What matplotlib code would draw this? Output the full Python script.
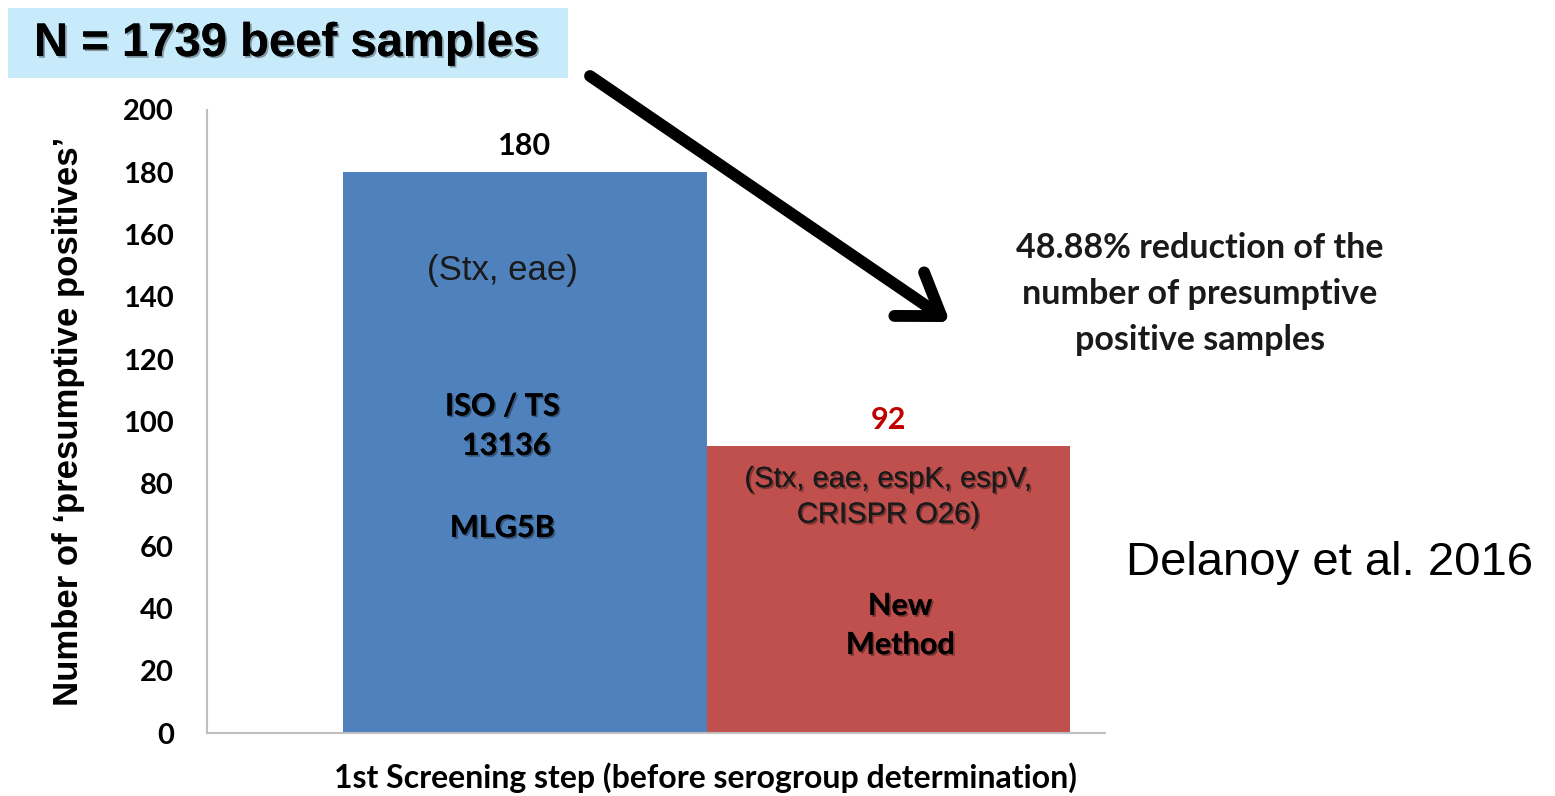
import matplotlib
matplotlib.use("Agg")
import matplotlib.pyplot as plt
import matplotlib.patheffects as pe
from matplotlib.patches import FancyArrowPatch, Rectangle

categories = ["ISO / TS 13136 / MLG5B", "New Method"]
values = [180, 92]
bar_colors = ["#4f81bd", "#c0504d"]
value_label_colors = ["#000000", "#c00000"]
yticks = [0, 20, 40, 60, 80, 100, 120, 140, 160, 180, 200]

W, H = 1555, 796
fig = plt.figure(figsize=(W / 100, H / 100), dpi=100)
ax = fig.add_axes([207 / W, 1 - 733 / H, (1105 - 207) / W, (733 - 110) / H])

x = list(range(len(values)))
bars = ax.bar(x, values, width=1.0, color=bar_colors, edgecolor="none")
ax.set_xlim(-0.8747, 1.5964)
ax.set_ylim(0, 200)
ax.set_yticks(yticks)
ax.set_yticklabels([str(t) for t in yticks], fontfamily="Lato", fontweight="bold", fontsize=21)
ax.set_xticks([])
ax.tick_params(axis="y", length=0, pad=24)
for s in ["top", "right"]:
    ax.spines[s].set_visible(False)
for s in ["left", "bottom"]:
    ax.spines[s].set_color("#bfbfbf")
    ax.spines[s].set_linewidth(1.5)

ax.set_ylabel("Number of \u2018presumptive positives\u2019", fontfamily="Liberation Sans",
              fontweight="bold", fontsize=25, labelpad=27)
ax.set_xlabel("1st Screening step (before serogroup determination)", fontfamily="Lato",
              fontweight="bold", fontsize=23, labelpad=22)
ax.xaxis.set_label_coords((705 - 207) / 898, -(778 - 733) / 623, transform=ax.transAxes)
ax.xaxis.label.set_va("center")

shadow = [pe.withSimplePatchShadow(offset=(1.3, -1.3), shadow_rgbFace="black", alpha=0.35), pe.Normal()]

# value labels
for xi, v, c in zip(x, values, value_label_colors):
    ax.text(xi, v + 8.5, str(v), ha="center", va="center", fontfamily="Lato",
            fontweight="bold", fontsize=22, color=c)

# blue bar inner text
ax.text(-0.062, 148.6, "(Stx, eae)", ha="center", va="center", fontfamily="Liberation Sans",
        fontsize=25, color="#1a1a1a")
ax.text(-0.062, 98.5, "ISO / TS\n 13136", ha="center", va="center", fontfamily="Lato",
        fontweight="bold", fontsize=22, color="black", linespacing=1.5, path_effects=shadow)
ax.text(-0.062, 65.8, "MLG5B", ha="center", va="center", fontfamily="Lato",
        fontweight="bold", fontsize=22, color="black", path_effects=shadow)

# red bar inner text
ax.text(1.0, 75.8, "(Stx, eae, espK, espV,\nCRISPR O26)", ha="center", va="center",
        fontfamily="Liberation Sans", fontsize=21, color="#1a1a1a", linespacing=1.35,
        path_effects=shadow)
ax.text(1.033, 34.5, "New\nMethod", ha="center", va="center", fontfamily="Lato",
        fontweight="bold", fontsize=22, color="black", linespacing=1.48, path_effects=shadow)

# title box
fig.patches.append(Rectangle((8 / W, 1 - 78 / H), (568 - 8) / W, 70 / H,
                             transform=fig.transFigure, facecolor="#c8ebfc", edgecolor="none"))
fig.text(287 / W, 1 - 44 / H, "N = 1739 beef samples", ha="center", va="center",
         fontfamily="Liberation Sans", fontweight="bold", fontsize=34, color="black",
         path_effects=shadow)

# arrow
arr = FancyArrowPatch(
    (590 / W, 1 - 76 / H), (950 / W, 1 - 322 / H), transform=fig.transFigure,
    arrowstyle="->,head_length=28,head_width=19", mutation_scale=1, color="black",
    linewidth=8.5, capstyle="round", joinstyle="round", shrinkA=0, shrinkB=0)
fig.add_artist(arr)

fig.text(1200 / W, 1 - 294 / H, "48.88% reduction of the\nnumber of presumptive\npositive samples",
         ha="center", va="center", fontfamily="Lato", fontweight="bold", fontsize=24.5,
         color="#1a1a1a", linespacing=1.55)

fig.text(1330 / W, 1 - 563 / H, "Delanoy et al. 2016", ha="center", va="center",
         fontfamily="Liberation Sans", fontsize=34, color="black")

fig.savefig("out.png", dpi=100)
